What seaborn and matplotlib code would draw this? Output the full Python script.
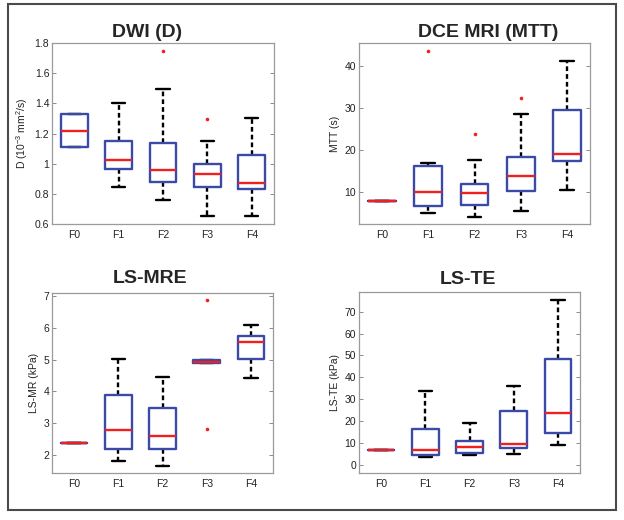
import numpy as np
import pandas as pd
import matplotlib
matplotlib.use("Agg")
import matplotlib.pyplot as plt
from matplotlib.patches import Rectangle
from matplotlib.ticker import FuncFormatter
import seaborn as sns

# Fibrosis stages
grades = ["F0", "F1", "F2", "F3", "F4"]

# five-number summaries: low whisker, q1, median, q3, high whisker
dwi_low = [1.110, 0.845, 0.757, 0.655, 0.651]
dwi_q1 = [1.110, 0.965, 0.878, 0.848, 0.834]
dwi_med = [1.219, 1.022, 0.960, 0.934, 0.870]
dwi_q3 = [1.329, 1.148, 1.137, 0.996, 1.055]
dwi_high = [1.329, 1.402, 1.495, 1.152, 1.305]
dwi_out_grade = ["F2", "F3"]
dwi_out_val = [1.749, 1.298]

mtt_low = [7.9, 5.1, 4.1, 5.4, 10.6]
mtt_q1 = [7.9, 6.75, 7.0, 10.3, 17.4]
mtt_med = [7.9, 10.07, 9.9, 13.8, 19.1]
mtt_q3 = [7.9, 16.25, 11.9, 18.4, 29.5]
mtt_high = [7.9, 16.96, 17.6, 28.7, 41.1]
mtt_out_grade = ["F1", "F2", "F3"]
mtt_out_val = [43.5, 23.9, 32.5]

mre_low = [2.37, 1.80, 1.66, 4.90, 4.43]
mre_q1 = [2.37, 2.20, 2.18, 4.90, 5.01]
mre_med = [2.37, 2.77, 2.61, 4.94, 5.56]
mre_q3 = [2.37, 3.89, 3.47, 4.98, 5.74]
mre_high = [2.37, 5.02, 4.46, 4.98, 6.09]
mre_out_grade = ["F3", "F3"]
mre_out_val = [6.87, 2.82]

te_low = [6.85, 3.8, 4.6, 5.0, 9.1]
te_q1 = [6.85, 4.57, 5.3, 7.6, 14.8]
te_med = [6.85, 6.85, 8.4, 9.6, 23.6]
te_q3 = [6.85, 16.6, 11.1, 24.7, 48.2]
te_high = [6.85, 33.9, 19.0, 36.1, 75.3]
te_out_grade = []
te_out_val = []

BLUE = "#3a4aa6"
RED = "#f02020"

sns.set_style("white")
plt.rcParams["font.family"] = ["Liberation Sans", "DejaVu Sans"]
plt.rcParams["mathtext.fontset"] = "custom"
plt.rcParams["mathtext.rm"] = "Liberation Sans"
plt.rcParams["mathtext.it"] = "Liberation Sans:italic"


def to_long(low, q1, med, q3, high):
    # each box drawn from its five numbers, whiskers at min/max
    rows = []
    for i, g in enumerate(grades):
        for v in (low[i], q1[i], med[i], q3[i], high[i]):
            rows.append({"grade": g, "value": v})
    return pd.DataFrame(rows)


def draw_panel(rect, stats, out_grade, out_val, ylim, yticks, ylabel,
               title, title_x, title_y):
    ax = fig.add_axes(rect)
    df = to_long(*stats)
    sns.boxplot(data=df, x="grade", y="value", order=grades, whis=(0, 100),
                width=0.6, fill=False, color=BLUE, linewidth=1.7,
                showfliers=False,
                boxprops=dict(color=BLUE, zorder=2.2),
                medianprops=dict(color=RED, linewidth=1.7, zorder=2.4),
                whiskerprops=dict(color="black", linestyle=(0, (2.0, 1.3)),
                                  linewidth=1.7, zorder=2.0),
                capprops=dict(color="black", linewidth=1.7, zorder=2.0),
                ax=ax)
    if out_val:
        sns.stripplot(x=out_grade, y=out_val, order=grades, jitter=False,
                      color=RED, size=2.6, linewidth=0, ax=ax, zorder=3)
    ax.set_xlim(-0.5, 4.5)
    ax.set_ylim(*ylim)
    ax.set_yticks(yticks)
    ax.yaxis.set_major_formatter(FuncFormatter(lambda v, p: f"{v:g}"))
    ax.set_xlabel("")
    ax.set_ylabel(ylabel, fontsize=7.5, color="#222222", labelpad=3)
    ax.tick_params(axis="y", direction="in", length=3, width=0.6,
                   color="#777777", labelsize=7.5, labelcolor="#222222",
                   right=True, left=True, pad=2)
    ax.tick_params(axis="x", length=0, labelsize=7.5, labelcolor="#222222",
                   pad=4)
    for s in ax.spines.values():
        s.set_color("#9a9a9a")
        s.set_linewidth(0.9)
    fig.text(title_x / 624, 1 - title_y / 520, title, fontsize=14,
             fontweight="bold", ha="center", va="baseline")
    return ax


fig = plt.figure(figsize=(6.24, 5.2), dpi=100)

# outer frame
fig.patches.append(Rectangle((8 / 624, 1 - 510 / 520), 608 / 624, 506 / 520,
                             transform=fig.transFigure, fill=False,
                             edgecolor="#4a4a4a", linewidth=1.5))

draw_panel([52 / 624, 1 - 224 / 520, 222 / 624, 181 / 520],
           (dwi_low, dwi_q1, dwi_med, dwi_q3, dwi_high),
           dwi_out_grade, dwi_out_val, (0.6, 1.8),
           [0.6, 0.8, 1.0, 1.2, 1.4, 1.6, 1.8],
           "D (10$^{-3}$ mm$^2$/s)", "DWI (D)", 147, 37)

draw_panel([359 / 624, 1 - 224 / 520, 231 / 624, 181 / 520],
           (mtt_low, mtt_q1, mtt_med, mtt_q3, mtt_high),
           mtt_out_grade, mtt_out_val, (2.4, 45.5),
           [10, 20, 30, 40], "MTT (s)", "DCE MRI (MTT)", 488, 37)

draw_panel([52 / 624, 1 - 473 / 520, 221 / 624, 180 / 520],
           (mre_low, mre_q1, mre_med, mre_q3, mre_high),
           mre_out_grade, mre_out_val, (1.43, 7.1),
           [2, 3, 4, 5, 6, 7], "LS-MR (kPa)", "LS-MRE", 150, 283)

draw_panel([359 / 624, 1 - 473 / 520, 221 / 624, 181 / 520],
           (te_low, te_q1, te_med, te_q3, te_high),
           te_out_grade, te_out_val, (-3.7, 79),
           [0, 10, 20, 30, 40, 50, 60, 70], "LS-TE (kPa)", "LS-TE", 468, 284)

fig.savefig("out.png", dpi=100)
